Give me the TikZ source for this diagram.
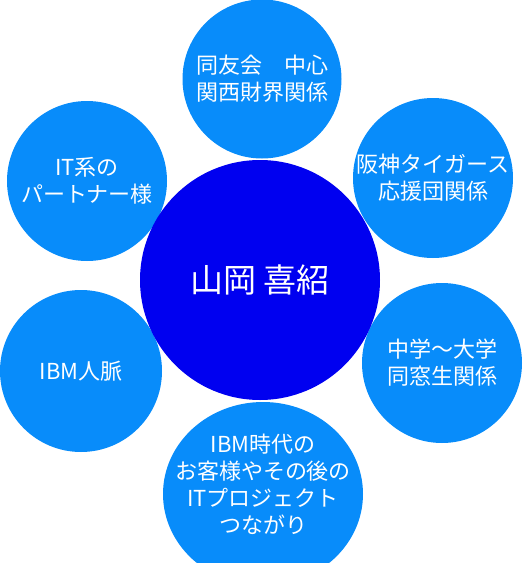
\documentclass[tikz,border=0pt]{standalone}
\usepackage{fontspec}
\newfontfamily\cjk{Noto Sans CJK JP}
\usetikzlibrary{shapes.geometric}
\definecolor{outerblue}{RGB}{8,140,250}
\definecolor{coreblue}{RGB}{0,0,240}
\tikzset{
  outer/.style={circle, fill=outerblue, draw=none, inner sep=0pt, text=white, align=center,
    font=\cjk\fontsize{22}{27}\selectfont},
  core/.style={circle, fill=coreblue, draw=none, inner sep=0pt, text=white,
    font=\cjk\fontsize{33}{38}\selectfont},
  lbl/.style={text=white, align=center, inner sep=0pt, font=\cjk\fontsize{22}{27}\selectfont}
}
\begin{document}
\begin{tikzpicture}[x=1pt,y=-1pt]
\useasboundingbox (0,0) rectangle (523,563);
\node[outer, minimum size=159pt] (top) at (262,79) {同友会　中心\\関西財界関係};
\node[outer, minimum size=160pt] (ur) at (433,178) {阪神タイガース\\応援団関係};
\node[outer, minimum size=160pt] (ul) at (87,181) {IT系の\\パートナー様};
\node[outer, minimum size=160pt] (lr) at (442,363) {中学～大学\\同窓生関係};
\node[outer, minimum size=162pt] (ll) at (81,371) {IBM人脈};
\node[ellipse, fill=outerblue, draw=none, minimum width=200pt, minimum height=184pt] (bot) at (263,494) {};
\node[lbl] (bottxt) at (263,484) {IBM時代の\\お客様やその後の\\ITプロジェクト\\つながり};
\node[core, minimum size=240pt] (center) at (260,280) {山岡 喜紹};
\end{tikzpicture}
\end{document}
